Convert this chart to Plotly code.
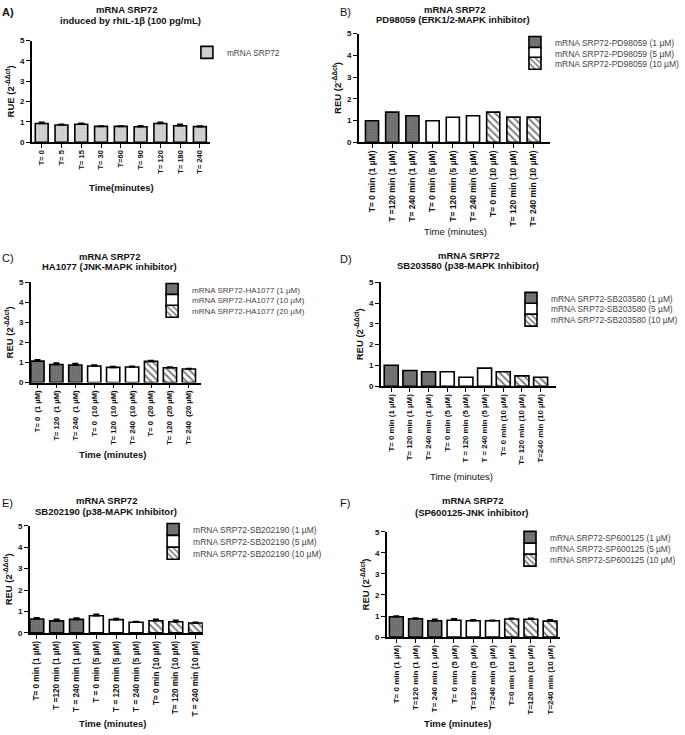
import plotly.graph_objects as go

W, H = 685, 735
def px(x): return x / W
def py(y): return 1 - y / H

# ---------------- data ----------------
a_labels = ["T= 0", "T= 5", "T= 15", "T= 30", "T=60", "T= 90", "T= 120", "T= 180", "T= 240"]
a_values = [0.92, 0.85, 0.89, 0.78, 0.78, 0.76, 0.92, 0.81, 0.77]
a_err = [0.06, 0.03, 0.04, 0.02, 0.02, 0.05, 0.06, 0.07, 0.03]

b_labels = ["T= 0 min (1 µM)", "T =120 min (1 µM)", "T= 240 min (1 µM)",
            "T= 0 min (5 µM)", "T= 120 min (5 µM)", "T= 240 min (5 µM)",
            "T= 0 min (10 µM)", "T= 120 min (10 µM)", "T= 240 min (10 µM)"]
b_values = [0.99, 1.39, 1.22, 0.99, 1.15, 1.22, 1.39, 1.16, 1.16]

c_labels = ["T= 0  (1 µM)", "T= 120  (1 µM)", "T= 240  (1 µM)",
            "T= 0  (10 µM)", "T= 120  (10 µM)", "T= 240  (10 µM)",
            "T= 0  (20 µM)", "T= 120  (20 µM)", "T= 240  (20 µM)"]
c_values = [1.07, 0.90, 0.88, 0.83, 0.76, 0.78, 1.06, 0.74, 0.68]
c_err = [0.07, 0.07, 0.07, 0.04, 0.04, 0.03, 0.04, 0.03, 0.02]

d_labels = ["T= 0 min (1 µM)", "T= 120 min (1 µM)", "T= 240 min (1 µM)",
            "T= 0 min (5 µM)", "T = 120 min (5 µM)", "T = 240 min (5 µM)",
            "T= 0 min (10 µM)", "T= 120 min (10 µM)", "T=240 min (10 µM)"]
d_values = [1.01, 0.76, 0.70, 0.70, 0.43, 0.87, 0.70, 0.50, 0.43]

e_labels = ["T= 0 min (1 µM)", "T =120 min (1 µM)", "T = 240 min (1 µM)",
            "T = 0 min (5 µM)", "T = 120 min (5 µM)", "T = 240 min (5 µM)",
            "T= 0 min (10 µM)", "T= 120 min (10 µM)", "T = 240 min (10 µM)"]
e_values = [0.65, 0.56, 0.63, 0.80, 0.62, 0.50, 0.57, 0.52, 0.46]
e_err = [0.05, 0.08, 0.06, 0.07, 0.05, 0.03, 0.07, 0.07, 0.04]

f_labels = ["T= 0 min (1 µM)", "T=120 min (1 µM)", "T= 240 min (1 µM)",
            "T= 0 min (5 µM)", "T=120 min (5 µM)", "T=240 min (5 µM)",
            "T=0 min (10 µM)", "T=120 min (10 µM)", "T=240 min (10 µM)"]
f_values = [0.97, 0.87, 0.78, 0.80, 0.78, 0.78, 0.86, 0.85, 0.76]
f_err = [0.03, 0.04, 0.07, 0.07, 0.04, 0.02, 0.03, 0.04, 0.06]

b_series = ["mRNA SRP72-PD98059 (1 µM)", "mRNA SRP72-PD98059 (5 µM)", "mRNA SRP72-PD98059 (10 µM)"]
c_series = ["mRNA SRP72-HA1077 (1 µM)", "mRNA SRP72-HA1077 (10 µM)", "mRNA SRP72-HA1077 (20 µM)"]
d_series = ["mRNA SRP72-SB203580 (1 µM)", "mRNA SRP72-SB203580 (5 µM)", "mRNA SRP72-SB203580 (10 µM)"]
e_series = ["mRNA SRP72-SB202190 (1 µM)", "mRNA SRP72-SB202190 (5 µM)", "mRNA SRP72-SB202190 (10 µM)"]
f_series = ["mRNA SRP72-SP600125 (1 µM)", "mRNA SRP72-SP600125 (5 µM)", "mRNA SRP72-SP600125 (10 µM)"]

# ---------------- styles ----------------
FONT = "Liberation Sans, Arial, sans-serif"
styles = [
    dict(color="#6a6a6a", pattern=dict(shape=".", fgcolor="#959595", size=3, solidity=0.3)),
    dict(color="white"),
    dict(color="white", pattern=dict(shape="\\", fgcolor="black", size=5, solidity=0.4)),
]
a_style = dict(color="#d6d6d6", pattern=dict(shape=".", fgcolor="#a8a8a8", size=3, solidity=0.3))

fig = go.Figure()
legend_count = [0]
legends = {}

def add_legend(text_x, row_y, fsize):
    legend_count[0] += 1
    n = legend_count[0]
    name = "legend" if n == 1 else f"legend{n}"
    legends[name] = dict(x=px(text_x - 40), y=py(row_y - 3), xanchor="left", yanchor="middle",
                         bgcolor="rgba(0,0,0,0)", borderwidth=0,
                         font=dict(family=FONT, size=fsize, color="#444"))
    return name

panels = [
    dict(ax="", labels=a_labels, values=a_values, err=a_err, series=["mRNA SRP72"],
         xd=(32, 211), yd=(37, 140), rng=[-0.5, 8.5], w=0.65, lx=228, rows=[52],
         tf=7.5, lf=8.3, ytitle="RUE (2<sup>-ΔΔct</sup>)"),
    dict(ax="2", labels=b_labels, values=b_values, err=None, series=b_series,
         xd=(361, 553), yd=(30, 140), rng=[-0.65, 8.8], w=0.65, lx=558, rows=[42, 53, 63],
         tf=8.5, lf=8.5, ytitle="REU (2<sup>-ΔΔct</sup>)"),
    dict(ax="3", labels=c_labels, values=c_values, err=c_err, series=c_series,
         xd=(31, 202), yd=(281.7, 383.3), rng=[-0.35, 8.63], w=0.7, lx=193, rows=[292, 303, 314],
         tf=7.6, lf=8.0, ytitle="REU (2<sup>-ΔΔct</sup>)"),
    dict(ax="4", labels=d_labels, values=d_values, err=None, series=d_series,
         xd=(383, 559), yd=(281.7, 387), rng=[-0.56, 8.81], w=0.75, lx=554, rows=[301, 312, 323],
         tf=7.9, lf=8.4, ytitle="REU (2<sup>-ΔΔct</sup>)"),
    dict(ax="5", labels=e_labels, values=e_values, err=e_err, series=e_series,
         xd=(30, 204), yd=(528.3, 636.7), rng=[-0.35, 8.36], w=0.7, lx=194, rows=[535, 547, 559],
         tf=8.2, lf=8.5, ytitle="REU (2<sup>-ΔΔct</sup>)"),
    dict(ax="6", labels=f_labels, values=f_values, err=f_err, series=f_series,
         xd=(389, 563), yd=(534.3, 641), rng=[-0.5, 8.5], w=0.72, lx=553, rows=[543, 555, 566],
         tf=8.0, lf=8.3, ytitle="REU (2<sup>-ΔΔct</sup>)"),
]

layout = {}
for p in panels:
    xa = "x" + p["ax"]
    ya = "y" + p["ax"]
    groups = [list(range(9))] if len(p["series"]) == 1 else [[0, 1, 2], [3, 4, 5], [6, 7, 8]]
    for gi, idx in enumerate(groups):
        st = a_style if len(p["series"]) == 1 else styles[gi]
        marker = dict(color=st["color"], line=dict(color="black", width=1.6))
        if "pattern" in st:
            marker["pattern"] = st["pattern"]
        kw = {}
        if p["err"] is not None:
            kw["error_y"] = dict(type="data", array=[p["err"][i] for i in idx],
                                 arrayminus=[0] * len(idx), symmetric=False,
                                 color="black", thickness=1.6, width=3)
        fig.add_trace(go.Bar(
            x=[p["labels"][i] for i in idx], y=[p["values"][i] for i in idx],
            width=p["w"], marker=marker, name=p["series"][gi],
            xaxis=xa, yaxis=ya, legend=add_legend(p["lx"], p["rows"][gi], p["lf"]), **kw))
    xkey = "xaxis" + p["ax"]
    ykey = "yaxis" + p["ax"]
    layout[xkey] = dict(domain=[px(p["xd"][0]), px(p["xd"][1])], anchor=ya,
                        type="category", categoryorder="array", categoryarray=p["labels"],
                        range=p["rng"], tickangle=-90, showline=True, linecolor="black",
                        linewidth=1.6, ticks="outside", ticklen=4, tickcolor="black",
                        tickwidth=1.2, showgrid=False, zeroline=False, ticklabelstandoff=-1,
                        tickfont=dict(family=FONT, size=p["tf"], color="#111", weight="bold"))
    layout[ykey] = dict(domain=[py(p["yd"][1]), py(p["yd"][0])], anchor=xa,
                        range=[0, 5], dtick=1, showline=True, linecolor="black",
                        linewidth=1.6, ticks="outside", ticklen=4, tickcolor="black",
                        tickwidth=1.2, showgrid=False, zeroline=False,
                        title=dict(text=p["ytitle"], standoff=4,
                                   font=dict(family=FONT, size=9.5, color="#111", weight="bold")),
                        tickfont=dict(family=FONT, size=8, color="#111", weight="bold"))

annotations = []
def ann(text, x, y, size=9.5, bold=True, xanchor="center"):
    annotations.append(dict(text=text, x=px(x), y=py(y), xref="paper", yref="paper",
                            showarrow=False, xanchor=xanchor, yanchor="middle",
                            font=dict(family=FONT, size=size, color="#111",
                                      weight="bold" if bold else "normal")))

# panel letters
ann("A)", 0, 8, size=11, xanchor="left")
ann("B)", 340, 8, size=11, bold=False, xanchor="left")
ann("C)", 0, 257, size=11, bold=False, xanchor="left")
ann("D)", 340, 258, size=11, bold=False, xanchor="left")
ann("E)", 0, 505, size=11, bold=False, xanchor="left")
ann("F)", 340, 505, size=11, bold=False, xanchor="left")

# titles
ann("mRNA SRP72", 127, 6)
ann("induced by rhIL-1β (100 pg/mL)", 131, 17)
ann("mRNA SRP72", 457, 6)
ann("PD98059 (ERK1/2-MAPK inhibitor)", 456, 16)
ann("mRNA SRP72", 110, 256)
ann("HA1077 (JNK-MAPK inhibitor)", 110, 266)
ann("mRNA SRP72", 471, 255)
ann("SB203580 (p38-MAPK Inhibitor)", 471, 265)
ann("mRNA SRP72", 107, 503)
ann("SB202190 (p38-MAPK Inhibitor)", 107, 514)
ann("mRNA SRP72", 475, 503)
ann("(SP600125-JNK inhibitor)", 475, 515)

# x-axis titles
ann("Time(minutes)", 122, 186)
ann("Time (minutes)", 458, 230, bold=False)
ann("Time (minutes)", 113, 456)
ann("Time (minutes)", 464, 478, bold=False)
ann("Time (minutes)", 113, 728)
ann("Time (minutes)", 460, 728)

fig.update_layout(width=W, height=H, margin=dict(l=0, r=0, t=0, b=0),
                  paper_bgcolor="white", plot_bgcolor="white", barmode="overlay",
                  showlegend=True, annotations=annotations, **layout, **legends)

fig.write_html("out.html", config={"displayModeBar": False},
               post_script="document.body.style.margin='0';document.body.style.overflow='hidden';")
